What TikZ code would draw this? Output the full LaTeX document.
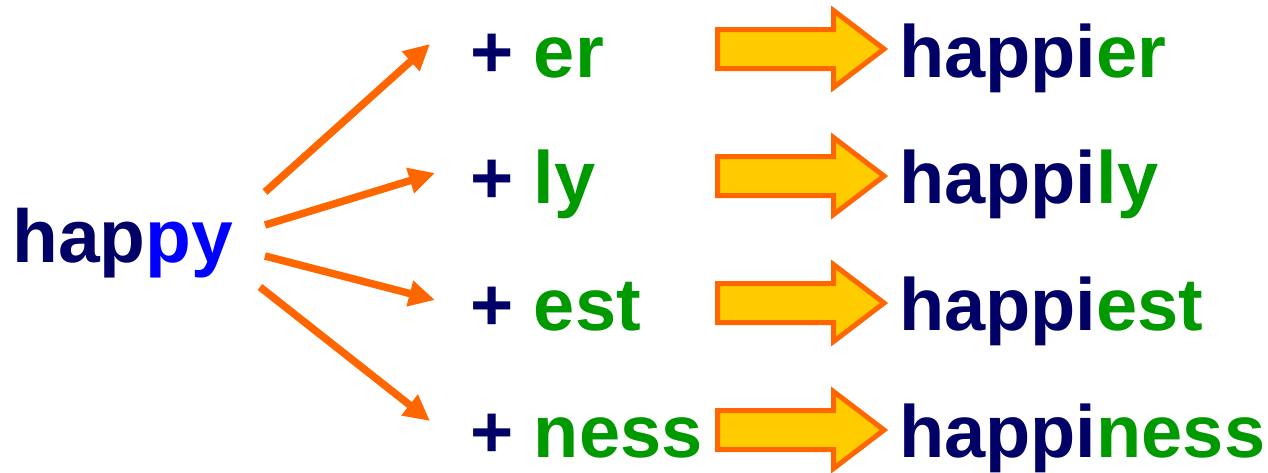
\documentclass[tikz,border=0pt]{standalone}
\usepackage{fontspec}
\setmainfont{Liberation Sans}
\usetikzlibrary{arrows.meta}
\definecolor{navy}{HTML}{000066}
\definecolor{brightblue}{HTML}{0000FF}
\definecolor{sgreen}{HTML}{009900}
\definecolor{orng}{HTML}{FF6600}
\definecolor{yel}{HTML}{FFCC00}
\tikzset{
  word/.style={anchor=base west, inner sep=0pt, text=navy, font=\fontsize{74}{74}\selectfont\bfseries},
  conn/.style={draw=orng, line width=7.5pt, -{Triangle[length=26pt,width=25pt]}, shorten <=0pt},
  blockarrow/.style={draw=orng, fill=yel, line width=5pt, line join=miter},
}
\newcommand{\blockarr}[1]{%
  \path[blockarrow] (717.5,#1-19.5) -- (833.5,#1-19.5) -- (833.5,#1-38.5) -- (884,#1)
    -- (833.5,#1+38.5) -- (833.5,#1+19.5) -- (717.5,#1+19.5) -- cycle;}
\begin{document}
\begin{tikzpicture}[x=1pt,y=-1pt]
\useasboundingbox (0,0) rectangle (1268,472);
% source word
\node[word, font=\fontsize{75}{75}\selectfont\bfseries] (happy) at (12,262) {hap\textcolor{brightblue}{py}};
% suffix nodes
\node[word] (er) at (470,77) {+ \textcolor{sgreen}{er}};
\node[word] (ly) at (470,203) {+ \textcolor{sgreen}{ly}};
\node[word] (est) at (470,330) {+ \textcolor{sgreen}{est}};
\node[word] (ness) at (470,457) {+ \textcolor{sgreen}{ness}};
% result words
\node[word] (happier) at (899,77) {happi\textcolor{sgreen}{er}};
\node[word] (happily) at (899,203) {happi\textcolor{sgreen}{ly}};
\node[word] (happiest) at (899,330) {happi\textcolor{sgreen}{est}};
\node[word] (happiness) at (899,457) {happi\textcolor{sgreen}{ness}};
% connector endpoints
\coordinate (s1) at (265,192);
\coordinate (t1) at (430,44);
\coordinate (s2) at (265,225);
\coordinate (t2) at (435,173);
\coordinate (s3) at (265,256);
\coordinate (t3) at (435,300);
\coordinate (s4) at (260,287);
\coordinate (t4) at (430,421);
\draw[conn] (s1) -- (t1);
\draw[conn] (s2) -- (t2);
\draw[conn] (s3) -- (t3);
\draw[conn] (s4) -- (t4);
% block arrows
\blockarr{49}
\blockarr{176}
\blockarr{303}
\blockarr{430}
\end{tikzpicture}
\end{document}
